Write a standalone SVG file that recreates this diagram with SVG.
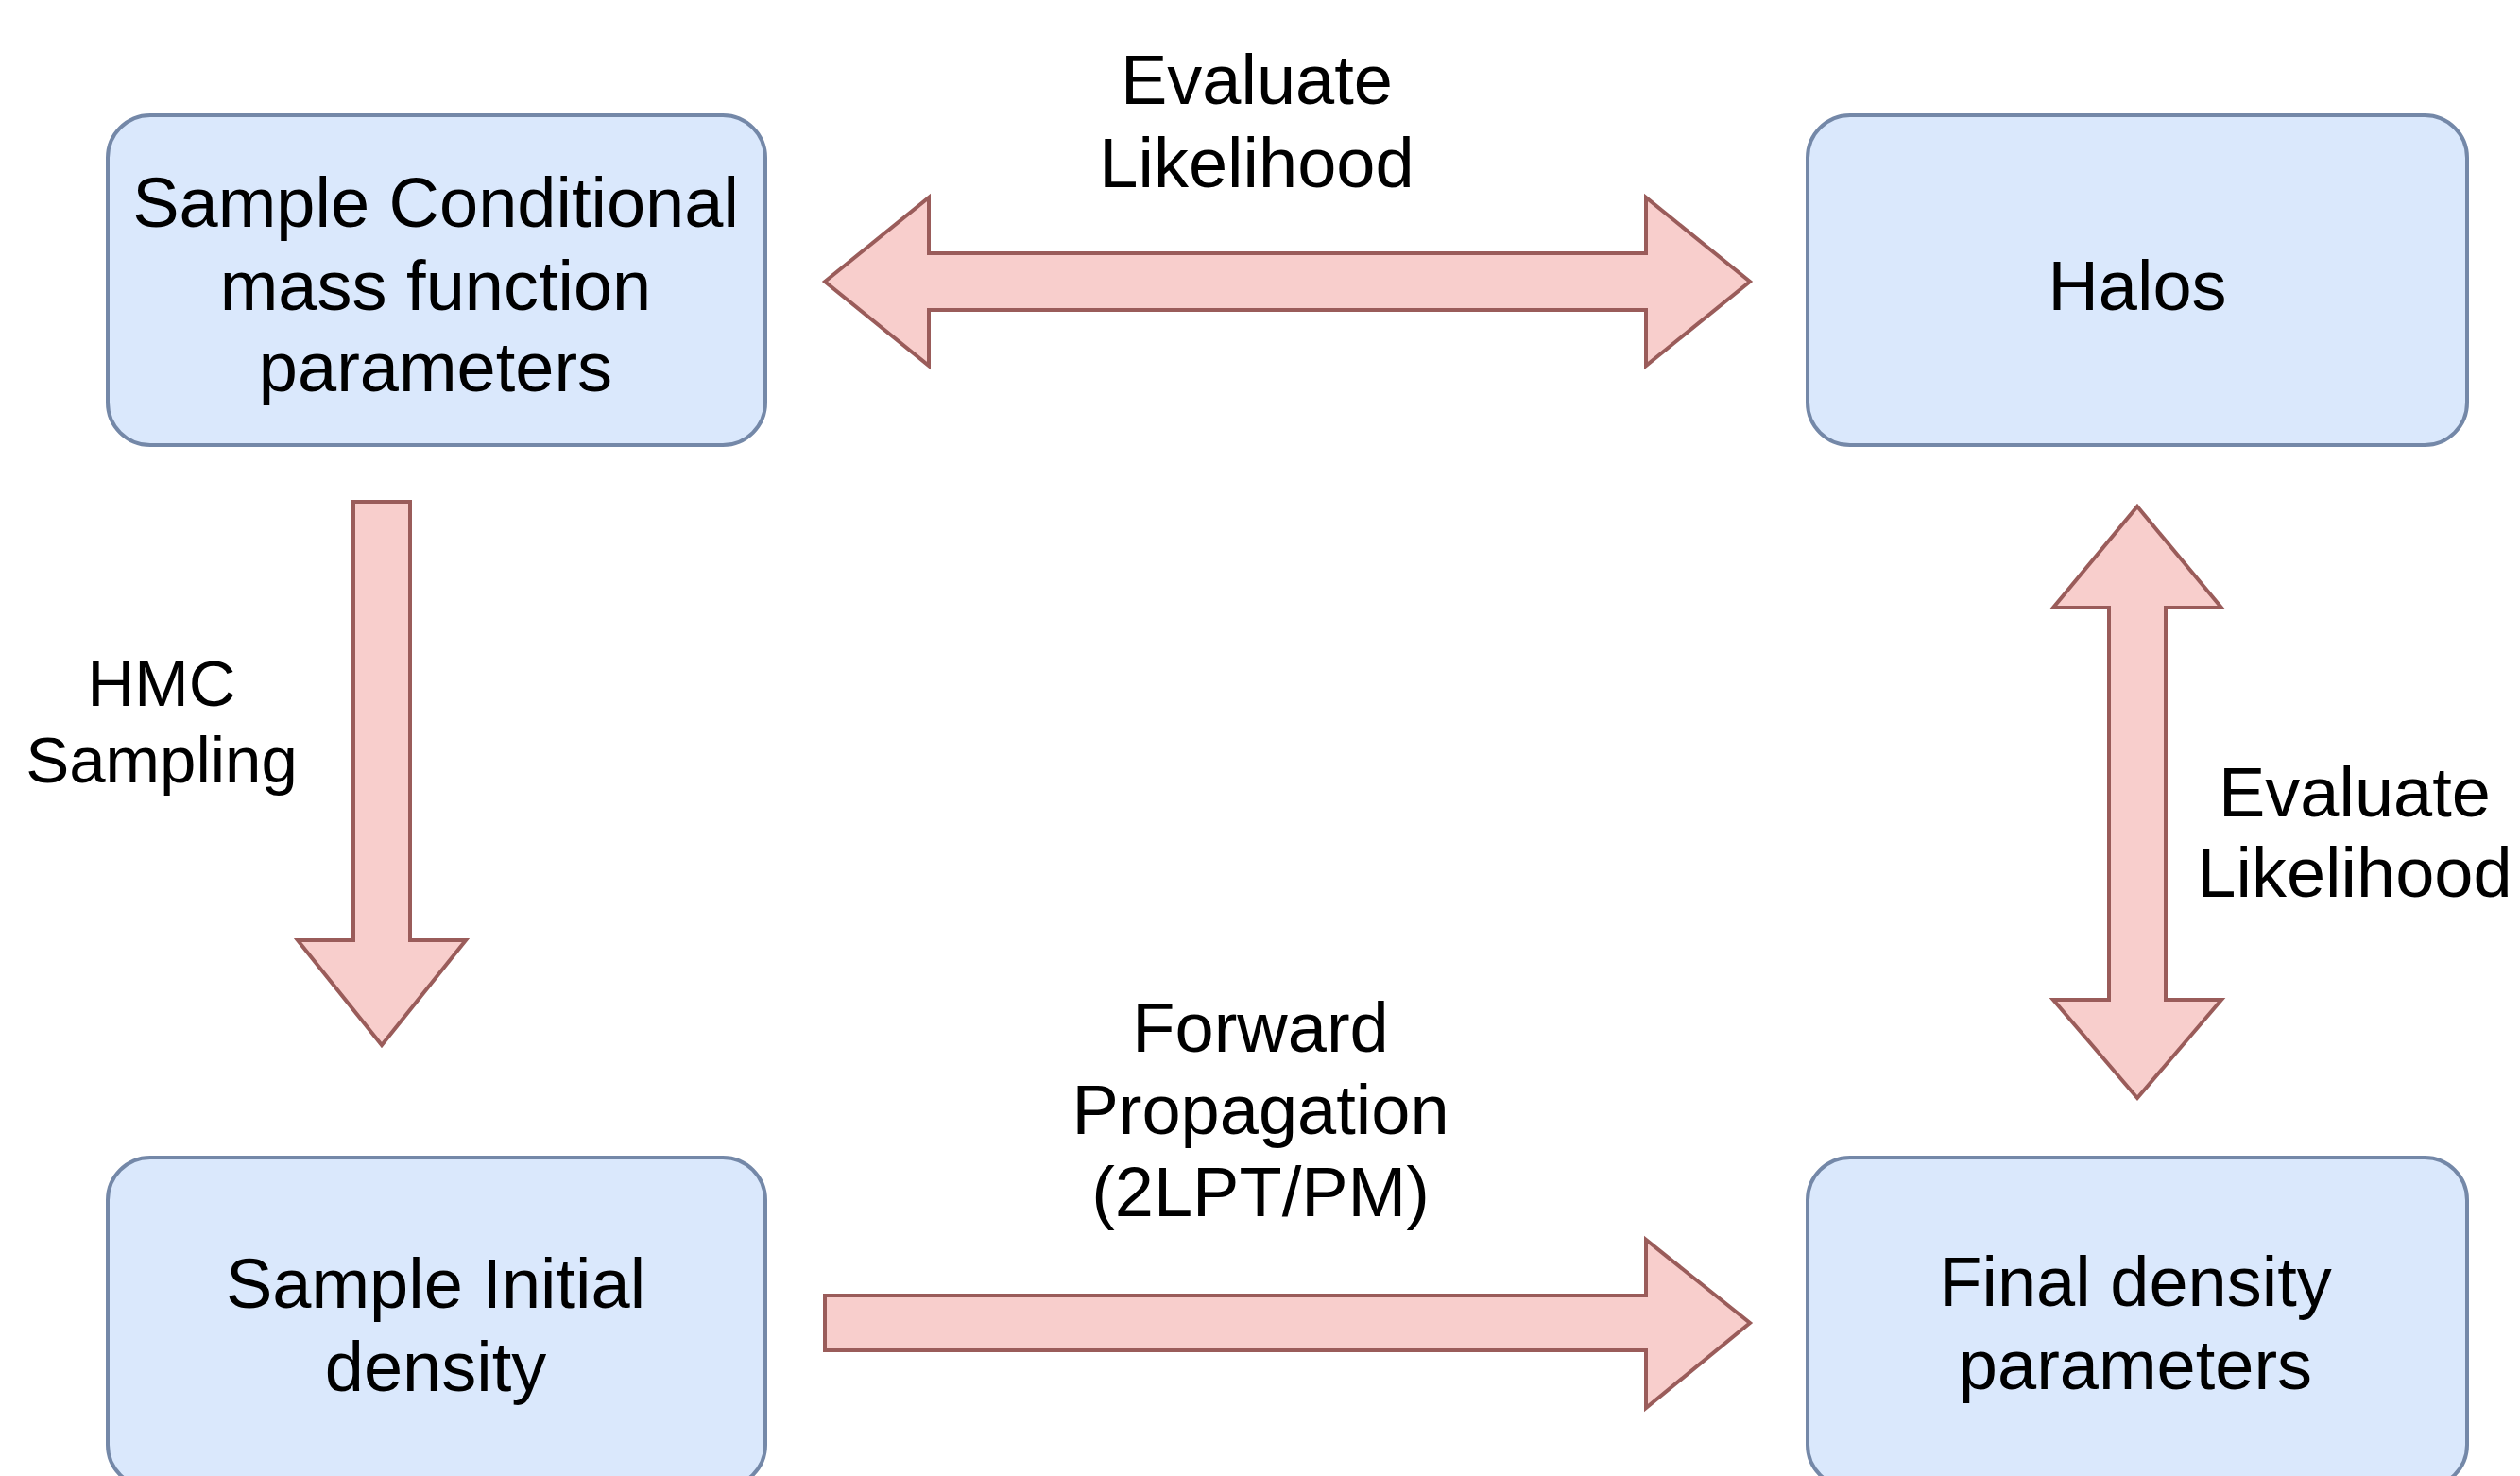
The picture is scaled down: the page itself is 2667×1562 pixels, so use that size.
<svg xmlns="http://www.w3.org/2000/svg" width="2667" height="1562" viewBox="0 0 2667 1562">
<style>
.box{fill:#dae8fc;stroke:#7488a8;stroke-width:4}
.arrow{fill:#f8cecc;stroke:#9a5c5a;stroke-width:4;stroke-linejoin:miter}
text{font-family:"Liberation Sans",Arial,sans-serif;font-size:74px;fill:#000;text-anchor:middle}
.small{font-size:69px}
</style>
<rect width="2667" height="1562" fill="#fff"/>
<g id="connectors">
<polygon class="arrow" points="873,298 983,209 983,268 1742,268 1742,209 1852,298 1742,387 1742,328 983,328 983,387"/>
<polygon class="arrow" points="374,531 434,531 434,995 493,995 404,1106 315,995 374,995"/>
<polygon class="arrow" points="873,1371 1742,1371 1742,1312 1852,1400 1742,1490 1742,1429 873,1429"/>
<polygon class="arrow" points="2262,536 2351,643 2292,643 2292,1058 2351,1058 2262,1162 2173,1058 2232,1058 2232,643 2173,643"/>
<text x="1330" y="110">Evaluate</text>
<text x="1330" y="198">Likelihood</text>
<text class="small" x="171" y="747">HMC</text>
<text class="small" x="171" y="828">Sampling</text>
<text x="2492" y="864">Evaluate</text>
<text x="2492" y="949">Likelihood</text>
<text x="1334" y="1113">Forward</text>
<text x="1334" y="1200">Propagation</text>
<text x="1334" y="1287">(2LPT/PM)</text>
</g>
<g id="node-sample-cmf">
<rect class="box" x="114" y="122" width="696" height="349" rx="45" ry="45"/>
<text x="461" y="240">Sample Conditional</text>
<text x="461" y="328">mass function</text>
<text x="461" y="414">parameters</text>
</g>
<g id="node-halos">
<rect class="box" x="1913" y="122" width="698" height="349" rx="45" ry="45"/>
<text x="2262" y="328">Halos</text>
</g>
<g id="node-sample-initial">
<rect class="box" x="114" y="1225" width="696" height="349" rx="45" ry="45"/>
<text x="461" y="1384">Sample Initial</text>
<text x="461" y="1472">density</text>
</g>
<g id="node-final-density">
<rect class="box" x="1913" y="1225" width="698" height="349" rx="45" ry="45"/>
<text x="2260" y="1382">Final density</text>
<text x="2260" y="1470">parameters</text>
</g>
</svg>
